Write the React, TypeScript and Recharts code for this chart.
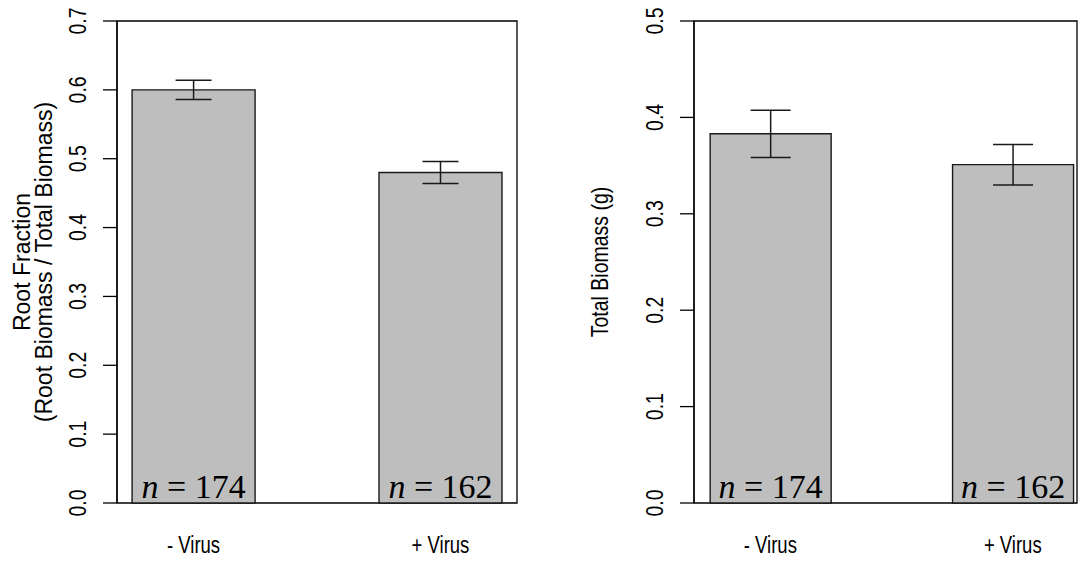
import React from "react";
import { BarChart, Bar, XAxis, YAxis, ErrorBar, LabelList, ReferenceArea } from "recharts";

// groups (barplot with space = 1 puts the bars at 1-2 and 3-4)
const groups = ["- Virus", "+ Virus"];
const groupCenters = [1.5, 3.5];
const sampleSizes = [174, 162];

const rootFraction = [0.6, 0.48];
const rootFractionSe = [0.014, 0.016];
const rootTicks = [0, 0.1, 0.2, 0.3, 0.4, 0.5, 0.6, 0.7];

const totalBiomass = [0.383, 0.351];
const totalBiomassSe = [0.0245, 0.021];
const biomassTicks = [0, 0.1, 0.2, 0.3, 0.4, 0.5];

const sans = "'Liberation Sans', Arial, sans-serif";
const serif = "'Liberation Serif', 'Times New Roman', serif";
const ink = "#1a1a1a";

// the R device draws its sans text taller and narrower than Arial
function TallText(props: any) {
  const { x, y, angle = 0, size = 20, stretch = 1.2, children } = props;
  return (
    <text
      transform={`translate(${x} ${y}) rotate(${angle}) scale(1 ${stretch})`}
      x={0}
      y={0}
      textAnchor="middle"
      dominantBaseline="central"
      fontFamily={sans}
      fontSize={size}
      fill="#000"
    >
      {children}
    </text>
  );
}

function YTick(props: any) {
  const { x, y, payload } = props;
  return (
    <TallText x={x} y={y} angle={-90} size={19.5}>
      {Number(payload.value).toFixed(1)}
    </TallText>
  );
}

function XTick(props: any) {
  const { x, y, payload } = props;
  return (
    <TallText x={x} y={y} size={18.5} stretch={1.25}>
      {groups[groupCenters.indexOf(payload.value)]}
    </TallText>
  );
}

function NLabel(props: any) {
  const { x, y, width, height, value } = props;
  return (
    <text
      x={x + width / 2}
      y={y + height - 5}
      textAnchor="middle"
      fontFamily={serif}
      fontSize={34}
      fill="#000"
    >
      <tspan fontStyle="italic">n</tspan>
      <tspan> = {value}</tspan>
    </text>
  );
}

type PanelProps = {
  left: number;
  width: number;
  axisWidth: number;
  marginRight: number;
  xDomain: [number, number];
  yTicks: number[];
  values: number[];
  errors: number[];
  title: string[];
  titleX: number[];
  titleSize: number;
  titleStretch: number;
  barSize: number;
  capWidth: number;
};

function Panel(p: PanelProps) {
  const data = groups.map((g, i) => ({
    pos: groupCenters[i],
    name: g,
    value: p.values[i],
    se: p.errors[i],
    n: sampleSizes[i],
  }));
  const yMax = p.yTicks[p.yTicks.length - 1];

  return (
    <div style={{ position: "absolute", left: p.left, top: 0 }}>
      <BarChart
        width={p.width}
        height={567}
        data={data}
        margin={{ top: 21, right: p.marginRight, bottom: 0, left: 0 }}
      >
        <XAxis
          dataKey="pos"
          type="number"
          domain={p.xDomain}
          allowDataOverflow
          ticks={groupCenters}
          axisLine={false}
          tickLine={false}
          tickSize={0}
          tickMargin={42}
          height={64}
          tick={<XTick />}
        />
        <YAxis
          type="number"
          domain={[0, yMax]}
          ticks={p.yTicks}
          width={p.axisWidth}
          tickSize={14}
          tickMargin={25}
          tick={<YTick />}
          axisLine={{ stroke: "#000", strokeWidth: 1.3 }}
          tickLine={{ stroke: "#000", strokeWidth: 1.3 }}
          label={{
            content: (lp: any) => {
              const vb = lp.viewBox;
              const cy = vb.y + vb.height / 2;
              return (
                <g>
                  {p.title.map((t, i) => (
                    <TallText
                      key={t}
                      x={vb.x + p.titleX[i]}
                      y={cy}
                      angle={-90}
                      size={p.titleSize}
                      stretch={p.titleStretch}
                    >
                      {t}
                    </TallText>
                  ))}
                </g>
              );
            },
          }}
        />
        <ReferenceArea
          x1={p.xDomain[0]}
          x2={p.xDomain[1]}
          y1={0}
          y2={yMax}
          fill="none"
          fillOpacity={0}
          stroke="#000"
          strokeWidth={1.3}
        />
        <Bar
          dataKey="value"
          fill="#bebebe"
          stroke={ink}
          strokeWidth={1.4}
          barSize={p.barSize}
          isAnimationActive={false}
        >
          <ErrorBar dataKey="se" width={p.capWidth} stroke={ink} strokeWidth={1.5} direction="y" />
          <LabelList dataKey="n" content={<NLabel />} />
        </Bar>
      </BarChart>
    </div>
  );
}

export default function App() {
  return (
    <div
      style={{
        position: "absolute",
        left: 0,
        top: 0,
        width: 1085,
        height: 567,
        background: "#fff",
      }}
    >
      <Panel
        left={0}
        width={540}
        axisWidth={117}
        marginRight={23}
        xDomain={[0.88, 4.12]}
        yTicks={rootTicks}
        values={rootFraction}
        errors={rootFractionSe}
        title={["Root Fraction", "(Root Biomass / Total Biomass)"]}
        titleX={[22, 44]}
        titleSize={23}
        titleStretch={1}
        barSize={123}
        capWidth={18}
      />
      <Panel
        left={540}
        width={545}
        axisWidth={154}
        marginRight={8}
        xDomain={[0.87, 4.03]}
        yTicks={biomassTicks}
        values={totalBiomass}
        errors={totalBiomassSe}
        title={["Total Biomass (g)"]}
        titleX={[60]}
        titleSize={19.5}
        titleStretch={1.2}
        barSize={121}
        capWidth={20}
      />
    </div>
  );
}
